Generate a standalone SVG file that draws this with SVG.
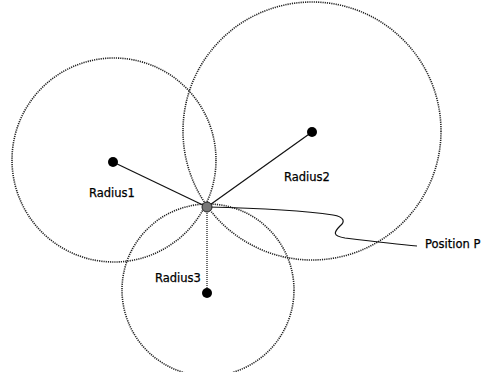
<svg xmlns="http://www.w3.org/2000/svg" width="491" height="372" viewBox="0 0 491 372">
<style>
.circ{fill:none;stroke:#222;stroke-width:1.6;stroke-dasharray:1.2 1}
.dot{fill:#000}
.lbl{font-family:"DejaVu Sans",Verdana,sans-serif;font-size:11.5px;fill:#000;stroke:#000;stroke-width:0.25}
.ln{fill:none;stroke:#111;stroke-width:1.2}
</style>
<rect width="491" height="372" fill="#fff"/>
<g id="circle1"><circle class="circ" cx="114" cy="160" r="102"/></g>
<g id="circle2"><circle class="circ" cx="312" cy="131" r="129"/></g>
<g id="circle3"><circle class="circ" cx="208" cy="290" r="86"/></g>
<g id="connectors">
<line class="ln" x1="113" y1="162" x2="207" y2="207"/>
<line class="ln" x1="312" y1="132" x2="207" y2="207"/>
<line class="ln" x1="207" y1="207" x2="207" y2="293" stroke-dasharray="1 1" stroke="#555"/>
<path class="ln" d="M207 207 C250 208 300 210 333 215 C345 217 345 222 340 226 C334 232 332 236 345 238 C370 241 395 244 417 246"/>
</g>
<g id="node1"><circle class="dot" cx="113" cy="162" r="5"/><text class="lbl" x="89" y="197">Radius1</text></g>
<g id="node2"><circle class="dot" cx="312" cy="132" r="5"/><text class="lbl" x="284" y="181">Radius2</text></g>
<g id="node3"><circle class="dot" cx="207" cy="293" r="5"/><text class="lbl" x="155" y="282">Radius3</text></g>
<g id="nodeP"><circle cx="207" cy="207" r="5" fill="#777" stroke="#222" stroke-width="1"/><text class="lbl" x="425" y="248">Position P</text></g>
</svg>
